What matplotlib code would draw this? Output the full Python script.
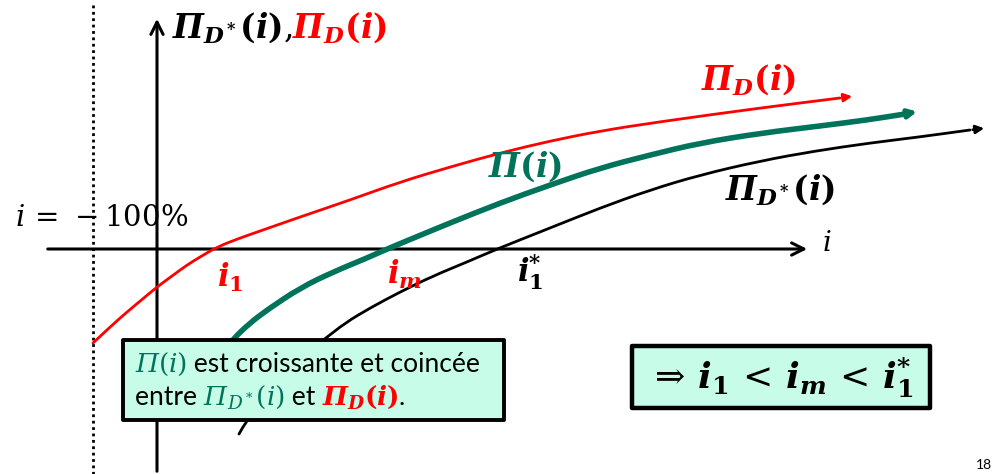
import matplotlib
matplotlib.use('Agg')
import matplotlib.pyplot as plt
from matplotlib.patches import Rectangle, PathPatch
from matplotlib.path import Path

plt.rcParams['mathtext.fontset'] = 'dejavuserif'

# curves (pixel coords, y downwards)
pid_x = [93, 110, 127, 145, 157, 172, 187, 200, 217, 240, 263, 300, 350, 400, 450, 500, 550, 600, 658, 760, 840]
pid_y = [343, 327, 312, 297, 287, 276, 265, 257, 247, 238, 230, 217, 200, 182, 167, 153, 141, 131, 122, 108, 98]

pi_x = [228, 233, 250, 267, 300, 333, 367, 387, 433, 450, 500, 550, 600, 650, 700, 762, 820, 867, 905]
pi_y = [346, 339, 323, 310, 288, 272, 258, 249, 230, 223, 203, 185, 168, 155, 143, 133, 126, 120, 114]

pids_x = [239, 246, 270, 295, 325, 345, 370, 400, 433, 467, 497, 550, 600, 650, 700, 760, 815, 870, 919, 970]
pids_y = [434, 421, 390, 360, 339, 323, 308, 292, 276, 262, 249, 228, 208, 190, 175, 161, 151, 143, 137, 130]

tips = {'red': (855, 96), 'green': (920, 111), 'black': (987, 128)}

box_fill = '#c6fce8'
green = '#00735a'

fig = plt.figure(figsize=(9.95, 4.74), dpi=100)
ax = fig.add_axes([0, 0, 1, 1])
ax.set_xlim(0, 995)
ax.set_ylim(474, 0)
ax.axis('off')


def smooth_curve(xs, ys, color, lw):
    # quadratic bezier through midpoints, read points act as control points
    verts = [(xs[0], ys[0])]
    codes = [Path.MOVETO]
    for k in range(1, len(xs) - 1):
        verts += [(xs[k], ys[k]), ((xs[k] + xs[k + 1]) / 2, (ys[k] + ys[k + 1]) / 2)]
        codes += [Path.CURVE3, Path.CURVE3]
    verts.append((xs[-1], ys[-1]))
    codes.append(Path.LINETO)
    ax.add_patch(PathPatch(Path(verts, codes), facecolor='none', edgecolor=color, lw=lw,
                           capstyle='round', zorder=3))


# axes
ax.plot([93, 93], [5, 474], color='black', lw=2, ls=(0, (1, 1.3)))
ax.annotate('', xy=(810, 249), xytext=(45, 249),
            arrowprops=dict(arrowstyle='->', color='black', lw=2.2, mutation_scale=22))
ax.annotate('', xy=(157, 16), xytext=(157, 474),
            arrowprops=dict(arrowstyle='->', color='black', lw=2.2, mutation_scale=22))

# curves
smooth_curve(pid_x, pid_y, 'red', 2.0)
smooth_curve(pi_x, pi_y, green, 4.0)
smooth_curve(pids_x, pids_y, 'black', 2.0)
ax.annotate('', xy=tips['red'], xytext=(pid_x[-1], pid_y[-1]),
            arrowprops=dict(arrowstyle='-|>', color='red', lw=2.0, mutation_scale=12))
ax.annotate('', xy=tips['green'], xytext=(pi_x[-1], pi_y[-1]),
            arrowprops=dict(arrowstyle='-|>', color=green, lw=3.5, mutation_scale=12))
ax.annotate('', xy=tips['black'], xytext=(pids_x[-1], pids_y[-1]),
            arrowprops=dict(arrowstyle='-|>', color='black', lw=2.0, mutation_scale=12))

renderer = fig.canvas.get_renderer()


def row(x, y, parts, **kw):
    # draw text pieces one after another on the same baseline
    for p in parts:
        s, c = p[0], p[1]
        extra = dict(kw)
        if len(p) > 2:
            extra.update(p[2])
        t = ax.text(x, y, s, color=c, va='baseline', ha='left', **extra)
        x += t.get_window_extent(renderer).width


PD = r'$\mathbfit{\Pi}_{\mathbfit{D}}\mathbf{(}\mathbfit{i}\mathbf{)}$'
PDS = r'$\mathbfit{\Pi}_{\mathbfit{D^*}}\mathbf{(}\mathbfit{i}\mathbf{)}$'

# labels
row(172, 38, [(PDS[:-1] + r',$', 'black'), (PD, 'red')], fontsize=23.5, zorder=6)
ax.text(748, 80, PD, color='red', fontsize=23.5, ha='center', va='center')
ax.text(525, 167, r'$\mathbfit{\Pi}\mathbf{(}\mathbfit{i}\mathbf{)}$', color=green,
        fontsize=23.5, ha='center', va='center')
ax.text(780, 190, PDS, color='black', fontsize=23.5, ha='center', va='center')
ax.text(827, 243, r'$i$', fontsize=20, ha='center', va='center')
ax.text(102, 218, r'$i\,=\,-100\%$', fontsize=21, ha='center', va='center')
ax.text(230, 277, r'$\mathbfit{i}_{\mathbf{1}}$', color='red', fontsize=22, ha='center', va='center')
ax.text(405, 274, r'$\mathbfit{i}_{\mathbfit{m}}$', color='red', fontsize=22, ha='center', va='center')
ax.text(530, 272, r'$\mathbfit{i}_{\mathbf{1}}^{\mathbf{*}}$', color='black', fontsize=22, ha='center', va='center')

# boxes
ax.add_patch(Rectangle((123, 340), 381, 80, facecolor=box_fill, edgecolor='black', lw=2.8,
                       joinstyle='round', zorder=5))
ax.add_patch(Rectangle((632, 346), 298, 62, facecolor=box_fill, edgecolor='black', lw=3.2,
                       joinstyle='round', zorder=5))

serif_it = {'family': 'DejaVu Serif', 'style': 'italic'}
row(135, 372, [('Π', green, serif_it), (r'$(i)$', green), (' est croissante et coincée', 'black')],
    fontsize=19, family='Lato', zorder=6)
row(135, 405, [('entre ', 'black'), ('Π', green, serif_it), (r'${}_{D^*}(i)$', green), (' et ', 'black'),
               (PD, 'red'), ('.', 'black')],
    fontsize=19, family='Lato', zorder=6)
ax.text(781, 378, r'$\Rightarrow\,\mathbfit{i}_{\mathbf{1}}\,<\,\mathbfit{i}_{\mathbfit{m}}\,<\,\mathbfit{i}_{\mathbf{1}}^{\mathbf{*}}$',
        fontsize=26, ha='center', va='center', zorder=6)

# page number in the corner
ax.text(976, 459, '18', fontsize=10, family='Lato', va='top', ha='left')

fig.savefig('out.png', dpi=100)
